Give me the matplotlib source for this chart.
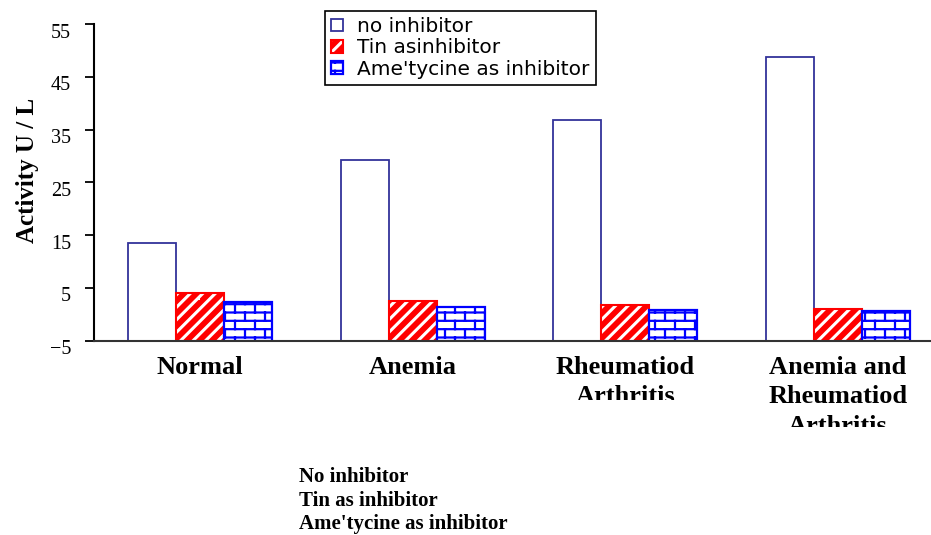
import warnings

import numpy as np
import matplotlib
matplotlib.use("Agg")
import matplotlib.pyplot as plt
from matplotlib import hatch as mhatch
from matplotlib.path import Path
from matplotlib.patches import Rectangle
from matplotlib.transforms import ScaledTranslation, blended_transform_factory

# two extra fill patterns ('s' = bold diagonal bands, 'b' = brick wall)
warnings.filterwarnings("ignore", message="hatch must consist")

plt.rcParams.update({
    "hatch.linewidth": 1.6,
    "axes.spines.top": False,
    "axes.spines.right": False,
})

groups = ["Normal", "Anemia", "Rheumatiod\nArthritis",
          "Anemia and\nRheumatiod\nArthritis"]
series = ["no inhibitor", "Tin asinhibitor", "Ame'tycine as inhibitor"]
no_inhibitor = [13.6, 29.3, 36.8, 48.8]
tin = [4.0, 2.6, 1.8, 1.1]
ametycine = [2.3, 1.4, 0.9, 0.7]
yticks = [-5, 5, 15, 25, 35, 45, 55]
footer = ["No inhibitor", "Tin as inhibitor", "Ame'tycine as inhibitor"]

W, H, DPI = 931, 535, 100
SERIF = "Liberation Serif"


class DiagonalBands(mhatch.HatchPatternBase):
    """Filled 45-degree bands, 8 per hatch tile."""

    def __init__(self, hatch, density):
        self.num_bands = hatch.count("s") * 8
        self.num_vertices = self.num_bands * 2 * 5

    def set_vertices_and_codes(self, vertices, codes):
        n = self.num_bands
        w = 0.4 / n
        quad = np.array([[0, 0], [1, 1], [1 + w, 1], [w, 0], [0, 0]], float)
        for k, off in enumerate(np.arange(-n, n) / n):
            vertices[5 * k:5 * k + 5] = quad + [off, 0]
            codes[5 * k:5 * k + 5] = [Path.MOVETO, Path.LINETO, Path.LINETO,
                                      Path.LINETO, Path.CLOSEPOLY]


class Bricks(mhatch.HatchPatternBase):
    """Running-bond brick wall, rows staggered by half a brick."""

    def __init__(self, hatch, density):
        k = hatch.count("b")
        self.rows, self.cols = 12 * k, 5 * k
        self.num_vertices = (self.rows + (self.rows + 1) * self.cols) * 2 if k else 0

    def set_vertices_and_codes(self, vertices, codes):
        r, c = self.rows, self.cols
        segs = []
        for i in range(r):
            y = (i + 0.5) / r
            segs.append(((0.0, y), (1.0, y)))
        for i in range(-1, r):
            y = (i + 0.5) / r
            shift = 0.25 if i % 2 else 0.75
            for j in range(c):
                x = (j + shift) / c
                segs.append(((x, y), (x, y + 1.0 / r)))
        segs = np.array(segs)
        vertices[0::2] = segs[:, 0]
        vertices[1::2] = segs[:, 1]
        codes[0::2] = Path.MOVETO
        codes[1::2] = Path.LINETO


mhatch._hatch_types.extend([DiagonalBands, Bricks])

fig = plt.figure(figsize=(W / DPI, H / DPI), dpi=DPI)
ax = fig.add_axes([94 / W, 1 - 340.7 / H, 850 / W, (340.7 - 24) / H])

x = np.arange(len(groups))
bw = 0.226
base = yticks[0]
ax.bar(x - bw, np.array(no_inhibitor) - base, bw, bottom=base,
       color="white", edgecolor="#33339a", linewidth=1.3, label=series[0])
ax.bar(x, np.array(tin) - base, bw, bottom=base, color="white",
       edgecolor="#ff0000", hatch="s", linewidth=1.5, label=series[1])
ax.bar(x + bw, np.array(ametycine) - base, bw, bottom=base, color="white",
       edgecolor="#0000ff", hatch="b", linewidth=1.6, label=series[2])

ax.set_xlim(-0.5, len(groups) - 0.5)
ax.set_ylim(yticks[0], yticks[-1])
ax.set_xticks([])
ax.set_yticks(yticks)
ax.spines["left"].set_linewidth(1.5)
ax.spines["left"].set_color("black")
ax.spines["bottom"].set_linewidth(1.5)
ax.spines["bottom"].set_color("#333333")
ax.tick_params(axis="y", direction="out", length=6.5, width=1.3, pad=10,
               labelsize=14.5)
shift_down = ScaledTranslation(0, -6.5 / DPI, fig.dpi_scale_trans)
for lbl in ax.get_yticklabels():
    lbl.set_fontfamily(SERIF)
    lbl.set_transform(lbl.get_transform() + shift_down)

fig.text(28 / W, 1 - 170 / H, "Activity U / L", rotation=90, ha="center",
         va="center", fontsize=18, fontweight="bold", family=SERIF)

# group names under the axis, cut off at the bottom of their slot
clip_bottoms = [400, 400, 400, 427]
lab_tr = blended_transform_factory(ax.transData, fig.transFigure)
for xi, name, cb in zip(x, groups, clip_bottoms):
    t = fig.text(xi, 1 - 356 / H, name, transform=lab_tr, ha="center",
                 va="top", fontsize=19, fontweight="bold", family=SERIF,
                 linespacing=1.36, multialignment="center")
    box = Rectangle((0, 1 - cb / H), 1, (cb - 342) / H,
                    transform=fig.transFigure)
    t.set_clip_path(box)
    t.set_clip_on(True)

leg = ax.legend(loc="upper left", bbox_to_anchor=(325 / W, 1 - 11 / H),
                bbox_transform=fig.transFigure, borderaxespad=0,
                prop={"family": "DejaVu Sans", "size": 14.5},
                handlelength=0.6, handleheight=0.6, handletextpad=0.7,
                labelspacing=0.12, borderpad=0.3, fancybox=False,
                framealpha=1, edgecolor="black")
leg.get_frame().set_linewidth(1.2)

for i, line in enumerate(footer):
    fig.text(299 / W, 1 - (482 + 23.5 * i) / H, line, ha="left",
             va="baseline", fontsize=15, fontweight="bold", family=SERIF)

fig.savefig("out.png", dpi=DPI)
